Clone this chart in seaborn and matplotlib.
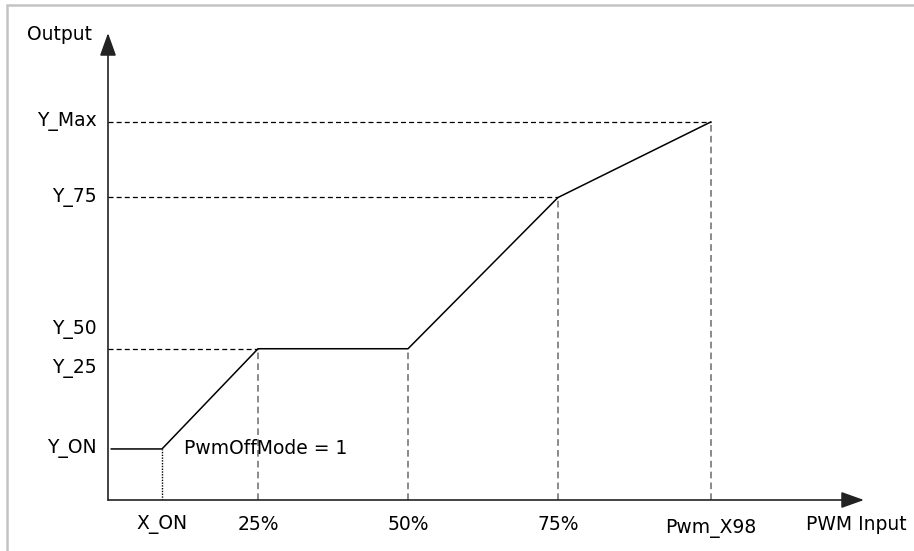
import numpy as np
import pandas as pd
import matplotlib
matplotlib.use("Agg")
import matplotlib.pyplot as plt
import seaborn as sns
from matplotlib.patches import Rectangle

# DATA #
x_labels = ["X_ON", "25%", "50%", "75%", "Pwm_X98"]
x_points = [9.0, 25, 50, 75, 100.5]
y_labels = ["Y_ON", "Y_25", "Y_50", "Y_75", "Y_Max"]
y_points = [13.5, 40, 40, 80, 100]
curve_x = [0.5, 9.0, 25, 50, 75, 100.5]
curve_y = [13.5, 13.5, 40, 40, 80, 100]
# pixel offsets for the two labels that share one level
y_label_shift = [0, -20, 19, 0, 0]

sns.set_style("white")
plt.rcParams['font.family'] = ['DejaVu Sans']
plt.rcParams['text.color'] = 'black'

W, H = 914, 551
fig = plt.figure(figsize=(W / 100, H / 100), dpi=100)
ax = fig.add_axes([108 / W, 51 / H, 756 / W, 467 / H])
ax.set_xlim(0, 126)
ax.set_ylim(0, 123.5)
for s in ax.spines.values():
    s.set_visible(False)
ax.set_xticks([])
ax.set_yticks([])

# guide lines
for i, (xv, yv) in enumerate(zip(x_points, curve_y[1:])):
    if i == 0:
        ax.plot([xv, xv], [0, yv], color="black", lw=1, ls=(0, (1, 1)))
    else:
        ax.plot([xv, xv], [0, yv], color="#777777", lw=1.2, ls=(0, (4, 2.5)))
for yv, xv in zip([40, 80, 100], [25, 75, 100.5]):
    ax.plot([0, xv], [yv, yv], color="black", lw=0.9, ls=(0, (4, 2.5)))

# main curve
df = pd.DataFrame({"x": curve_x, "y": curve_y})
sns.lineplot(data=df, x="x", y="y", ax=ax, color="black", lw=1.1, sort=False)
ax.set_xlabel("")
ax.set_ylabel("")

# axes with arrows
ax.annotate("", xy=(126, 0), xytext=(0, 0),
            arrowprops=dict(arrowstyle="-|>,head_length=1.4,head_width=0.5",
                            color="#222222", lw=1.2, shrinkA=0, shrinkB=0),
            annotation_clip=False)
ax.annotate("", xy=(0, 123.5), xytext=(0, 0),
            arrowprops=dict(arrowstyle="-|>,head_length=1.4,head_width=0.5",
                            color="#222222", lw=1.2, shrinkA=0, shrinkB=0),
            annotation_clip=False)

fs = 13.5
for lab, xv in zip(x_labels, x_points):
    dy = -28 if lab == "Pwm_X98" else -25
    ax.annotate(lab, xy=(xv, 0), xytext=(0, dy), textcoords="offset pixels",
                ha="center", va="center", fontsize=fs, annotation_clip=False)
for lab, yv, sh in zip(y_labels, y_points, y_label_shift):
    ax.annotate(lab, xy=(0, yv), xytext=(-11, sh), textcoords="offset pixels",
                ha="right", va="center", fontsize=fs, annotation_clip=False)

ax.annotate("PWM Input", xy=(126, 0), xytext=(-8, -25), textcoords="offset pixels",
            ha="center", va="center", fontsize=fs, annotation_clip=False)
ax.annotate("Output", xy=(0, 123.5), xytext=(-48, -1), textcoords="offset pixels",
            ha="center", va="center", fontsize=fs, annotation_clip=False)
ax.annotate("PwmOffMode = 1", xy=(9.0, 13.5), xytext=(22, 0), textcoords="offset pixels",
            ha="left", va="center", fontsize=fs, annotation_clip=False)

# light frame around the picture
fig.add_artist(Rectangle((7 / W, -0.2), 1.2, 1.2 - 5 / H, transform=fig.transFigure,
                         fill=False, edgecolor="#c4c4c4", lw=1.8))

fig.savefig("out.png", dpi=100)
